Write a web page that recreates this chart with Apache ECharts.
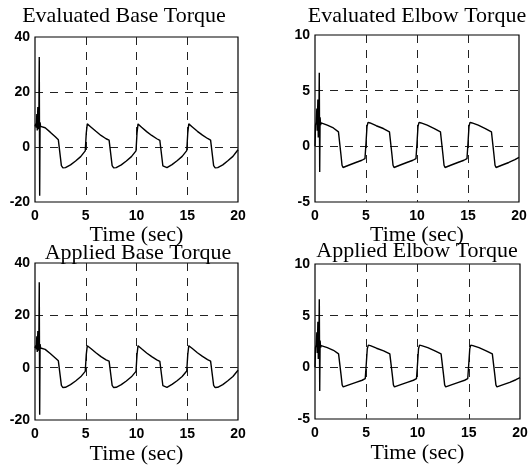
<!DOCTYPE html>
<html>
<head>
<meta charset="utf-8">
<script src="https://cdn.jsdelivr.net/npm/echarts@6/dist/echarts.min.js"></script>
<style>
  html, body { margin: 0; padding: 0; background: #fff; }
  #chart { width: 531px; height: 471px; }
</style>
</head>
<body>
<div id="chart"></div>
<script>
// panel titles
const titles = ['Evaluated Base Torque', 'Evaluated Elbow Torque', 'Applied Base Torque', 'Applied Elbow Torque'];
const xName = 'Time (sec)';
// axis ticks
const timeTicks = [0, 5, 10, 15, 20];
const baseTicks = [-20, 0, 20, 40];
const elbowTicks = [-5, 0, 5, 10];

// [time, torque]
const evalBase = [
  [0, 7.5], [0.08, 8.5], [0.12, 7], [0.18, 12], [0.22, 6], [0.28, 14.5], [0.32, 6.5], [0.38, 10],
  [0.42, 32.7], [0.46, -17.7], [0.5, 9], [0.55, 7.5], [0.6, 8.2],
  [1.0, 7.0], [1.5, 5.4], [2.0, 3.7], [2.3, 2.6], [2.45, 2.1], [2.6, -6.8], [2.75, -7.6],
  [3.0, -7.5], [3.5, -6.5], [4.0, -5.1], [4.5, -3.5], [4.95, -1.4],
  [5.05, 5.0], [5.15, 8.4], [5.5, 7.3], [6.0, 5.7], [6.5, 4.2], [7.0, 3.0], [7.3, 2.5], [7.45, 2.0],
  [7.6, -6.8], [7.75, -7.6], [8.0, -7.5], [8.5, -6.5], [9.0, -5.1], [9.5, -3.5], [9.95, -1.4],
  [10.05, 5.0], [10.15, 8.4], [10.5, 7.2], [11.0, 5.6], [11.5, 4.2], [12.0, 3.0], [12.3, 2.4], [12.45, 2.0],
  [12.6, -6.9], [12.75, -7.6], [13.0, -7.5], [13.5, -6.4], [14.0, -5.0], [14.5, -3.4], [14.95, -1.3],
  [15.05, 5.0], [15.15, 8.4], [15.5, 7.3], [16.0, 5.7], [16.5, 4.3], [17.0, 3.1], [17.3, 2.5], [17.45, 2.0],
  [17.6, -6.8], [17.75, -7.6], [18.0, -7.5], [18.5, -6.5], [19.0, -5.0], [19.5, -3.4], [20, -1.0]
];
const evalElbow = [
  [0, 0], [0.05, 1.9], [0.12, 2.2], [0.18, 3.4], [0.22, 1.4], [0.28, 4.2], [0.32, 0.8], [0.38, 2.6],
  [0.42, 6.6], [0.46, -2.3], [0.5, 2.6], [0.55, 1.9], [0.6, 2.1],
  [1.2, 1.9], [1.8, 1.65], [2.3, 1.3], [2.45, 1.15], [2.55, -0.8], [2.65, -1.7], [2.75, -1.9],
  [3.3, -1.7], [4.0, -1.45], [4.6, -1.25], [4.9, -1.1],
  [5.0, 0.3], [5.1, 1.8], [5.2, 2.15], [5.4, 2.1], [6.0, 1.85], [6.7, 1.6], [7.3, 1.3], [7.45, 1.15],
  [7.55, -0.8], [7.65, -1.7], [7.75, -1.9], [8.3, -1.7], [9.0, -1.45], [9.6, -1.25], [9.9, -1.1],
  [10.0, 0.3], [10.1, 1.8], [10.2, 2.15], [10.4, 2.1], [11.0, 1.9], [11.7, 1.6], [12.3, 1.3], [12.45, 1.15],
  [12.55, -0.8], [12.65, -1.7], [12.75, -1.9], [13.3, -1.7], [14.0, -1.45], [14.6, -1.25], [14.9, -1.1],
  [15.0, 0.3], [15.1, 1.8], [15.2, 2.15], [15.4, 2.1], [16.0, 1.9], [16.7, 1.6], [17.3, 1.3], [17.45, 1.15],
  [17.55, -0.8], [17.65, -1.7], [17.75, -1.9], [18.3, -1.7], [19.0, -1.45], [19.6, -1.2], [20, -1.0]
];
const appliedBase = [
  [0, 7.5], [0.08, 8.5], [0.12, 7], [0.18, 12], [0.22, 6], [0.28, 14], [0.32, 6.5], [0.38, 10],
  [0.42, 32.6], [0.46, -18], [0.5, 9], [0.55, 7.5], [0.6, 8.2],
  [1.0, 7.0], [1.5, 5.4], [2.0, 3.7], [2.3, 2.6], [2.45, 2.1], [2.6, -6.8], [2.75, -7.6],
  [3.0, -7.5], [3.5, -6.5], [4.0, -5.1], [4.5, -3.5], [4.95, -1.4],
  [5.05, 5.0], [5.15, 8.4], [5.5, 7.3], [6.0, 5.7], [6.5, 4.2], [7.0, 3.0], [7.3, 2.5], [7.45, 2.0],
  [7.6, -6.8], [7.75, -7.6], [8.0, -7.5], [8.5, -6.5], [9.0, -5.1], [9.5, -3.5], [9.95, -1.4],
  [10.05, 5.0], [10.15, 8.4], [10.5, 7.2], [11.0, 5.6], [11.5, 4.2], [12.0, 3.0], [12.3, 2.4], [12.45, 2.0],
  [12.6, -6.9], [12.75, -7.6], [13.0, -7.5], [13.5, -6.4], [14.0, -5.0], [14.5, -3.4], [14.95, -1.3],
  [15.05, 5.0], [15.15, 8.4], [15.5, 7.3], [16.0, 5.7], [16.5, 4.3], [17.0, 3.1], [17.3, 2.5], [17.45, 2.0],
  [17.6, -6.8], [17.75, -7.6], [18.0, -7.5], [18.5, -6.5], [19.0, -5.0], [19.5, -3.4], [20, -1.0]
];
const appliedElbow = [
  [0, 0], [0.05, 1.9], [0.12, 2.2], [0.18, 3.4], [0.22, 1.4], [0.28, 4.4], [0.32, 0.8], [0.38, 2.6],
  [0.42, 6.6], [0.46, -2.3], [0.5, 2.6], [0.55, 1.9], [0.6, 2.1],
  [1.2, 1.9], [1.8, 1.65], [2.3, 1.3], [2.45, 1.15], [2.55, -0.8], [2.65, -1.7], [2.75, -1.9],
  [3.3, -1.7], [4.0, -1.45], [4.6, -1.25], [4.9, -1.1],
  [5.0, 0.3], [5.1, 1.8], [5.2, 2.15], [5.4, 2.1], [6.0, 1.85], [6.7, 1.6], [7.3, 1.3], [7.45, 1.15],
  [7.55, -0.8], [7.65, -1.7], [7.75, -1.9], [8.3, -1.7], [9.0, -1.45], [9.6, -1.25], [9.9, -1.1],
  [10.0, 0.3], [10.1, 1.8], [10.2, 2.15], [10.4, 2.1], [11.0, 1.9], [11.7, 1.6], [12.3, 1.3], [12.45, 1.15],
  [12.55, -0.8], [12.65, -1.7], [12.75, -1.9], [13.3, -1.7], [14.0, -1.45], [14.6, -1.25], [14.9, -1.1],
  [15.0, 0.3], [15.1, 1.8], [15.2, 2.15], [15.4, 2.1], [16.0, 1.9], [16.7, 1.6], [17.3, 1.3], [17.45, 1.15],
  [17.55, -0.8], [17.65, -1.7], [17.75, -1.9], [18.3, -1.7], [19.0, -1.45], [19.6, -1.2], [20, -1.0]
];

const seriesData = [evalBase, evalElbow, appliedBase, appliedElbow];
const yTicks = [baseTicks, elbowTicks, baseTicks, elbowTicks];

const grids = [
  { left: 35, top: 37, width: 203, height: 165 },
  { left: 315, top: 35, width: 204, height: 167 },
  { left: 35, top: 263, width: 203, height: 157 },
  { left: 315, top: 264, width: 205, height: 155 },
];
const titlePos = [[124, 16], [417, 16], [138, 253], [417, 251]];
const nameGaps = [6, 6, 23, 23];

const tickFont = { color: '#000', fontFamily: 'Liberation Sans', fontWeight: 'bold', fontSize: 14 };
const dashed = { show: true, showMinLine: false, showMaxLine: false,
  lineStyle: { color: '#222', width: 1, type: [8, 7] } };

const option = {
  backgroundColor: '#fff',
  animation: false,
  grid: grids.map(g => Object.assign({ show: true, borderColor: '#000', borderWidth: 1.2,
    backgroundColor: 'transparent', containLabel: false }, g)),
  xAxis: grids.map((g, i) => ({
    type: 'value', gridIndex: i,
    min: timeTicks[0], max: timeTicks[timeTicks.length - 1], interval: timeTicks[1] - timeTicks[0],
    name: xName, nameLocation: 'middle', nameGap: nameGaps[i],
    nameTextStyle: { color: '#000', fontFamily: 'Liberation Serif', fontSize: 22 },
    axisLine: { show: false }, axisTick: { show: false },
    axisLabel: Object.assign({ margin: 7 }, tickFont),
    splitLine: dashed,
  })),
  yAxis: grids.map((g, i) => ({
    type: 'value', gridIndex: i,
    min: yTicks[i][0], max: yTicks[i][yTicks[i].length - 1], interval: yTicks[i][1] - yTicks[i][0],
    axisLine: { show: false }, axisTick: { show: false },
    axisLabel: Object.assign({ margin: 5 }, tickFont),
    splitLine: dashed,
  })),
  graphic: titles.map((t, i) => ({
    type: 'text', x: titlePos[i][0], y: titlePos[i][1],
    style: { text: t, font: '22px "Liberation Serif"', fill: '#000',
      align: 'center', verticalAlign: 'middle', textAlign: 'center', textVerticalAlign: 'middle' },
  })),
  series: seriesData.map((d, i) => ({
    type: 'line', xAxisIndex: i, yAxisIndex: i, data: d,
    showSymbol: false, symbol: 'none',
    lineStyle: { color: '#000', width: 1.4 },
  })),
};

const chart = echarts.init(document.getElementById('chart'));
chart.setOption(option);
</script>
</body>
</html>
